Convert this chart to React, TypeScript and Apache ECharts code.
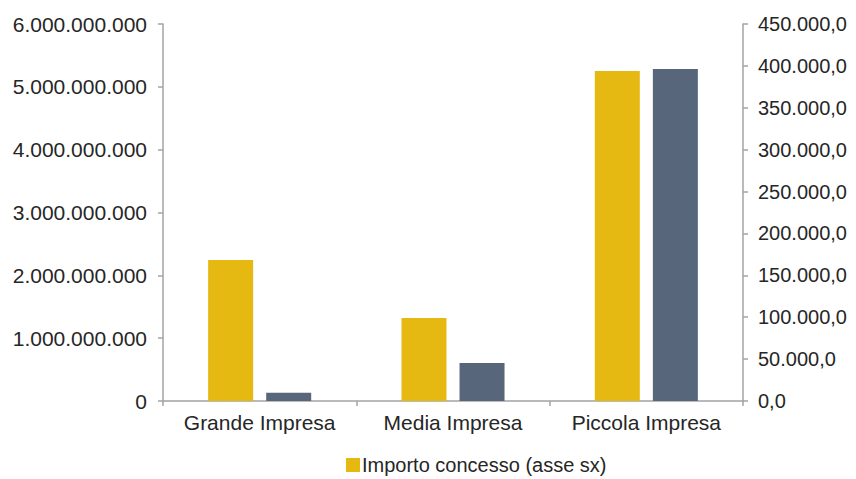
import React, { useEffect, useRef } from "react";
import * as echarts from "echarts";

const categories = ["Grande Impresa", "Media Impresa", "Piccola Impresa"];
const importoConcesso = [2244000000, 1322000000, 5252000000];
const secondaSerie = [9700, 45500, 396300];
const seriesNames = ["Importo concesso (asse sx)", "Numero (asse dx)"];

const fmtLeft = (v: number) =>
  Math.round(v).toString().replace(/\B(?=(\d{3})+(?!\d))/g, ".");
const fmtRight = (v: number) => {
  const s = v.toFixed(1);
  const [i, d] = s.split(".");
  return i.replace(/\B(?=(\d{3})+(?!\d))/g, ".") + "," + d;
};

export default function App() {
  const ref = useRef<HTMLDivElement>(null);
  useEffect(() => {
    if (!ref.current) return;
    const chart = echarts.init(ref.current, undefined, { renderer: "svg" });
    const axisLine = { show: true, lineStyle: { color: "#a3a3a3", width: 1.5 } };
    const font = "Liberation Sans, Helvetica, Arial, sans-serif";
    chart.setOption({
      animation: false,
      backgroundColor: "#ffffff",
      grid: { left: 163, right: 113, top: 24, bottom: 78, containLabel: false },
      legend: {
        data: [seriesNames[0]],
        left: 346,
        top: 455,
        icon: "rect",
        itemWidth: 14,
        itemHeight: 14,
        itemGap: 10,
        padding: 0,
        selectedMode: false,
        textStyle: { fontSize: 20, color: "#262626", fontFamily: font, padding: [0, 0, 0, -3] },
      },
      xAxis: {
        type: "category",
        data: categories,
        axisLine,
        axisTick: { show: true, length: 5, lineStyle: { color: "#a3a3a3", width: 1.5 } },
        axisLabel: { interval: 0, fontSize: 21, color: "#262626", fontFamily: font, margin: 11 },
      },
      yAxis: [
        {
          type: "value",
          min: 0,
          max: 6000000000,
          interval: 1000000000,
          position: "left",
          axisLine,
          axisTick: { show: true, length: 5, lineStyle: { color: "#a3a3a3", width: 1.5 } },
          splitLine: { show: false },
          axisLabel: { fontSize: 21, color: "#262626", fontFamily: font, margin: 16, formatter: fmtLeft },
        },
        {
          type: "value",
          min: 0,
          max: 450000,
          interval: 50000,
          position: "right",
          axisLine,
          axisTick: { show: true, length: 5, lineStyle: { color: "#a3a3a3", width: 1.5 } },
          splitLine: { show: false },
          axisLabel: { fontSize: 20, color: "#262626", fontFamily: font, margin: 15, formatter: fmtRight },
        },
      ],
      series: [
        {
          name: seriesNames[0],
          type: "bar",
          yAxisIndex: 0,
          data: importoConcesso,
          barWidth: 45,
          barGap: "29%",
          itemStyle: { color: "#E6B812" },
        },
        {
          name: seriesNames[1],
          type: "bar",
          yAxisIndex: 1,
          data: secondaSerie,
          barWidth: 45,
          barGap: "29%",
          itemStyle: { color: "#58667C" },
        },
      ],
    });
    return () => chart.dispose();
  }, []);
  return (
    <div
      ref={ref}
      style={{ position: "fixed", left: 0, top: 0, width: 856, height: 479 }}
    />
  );
}
